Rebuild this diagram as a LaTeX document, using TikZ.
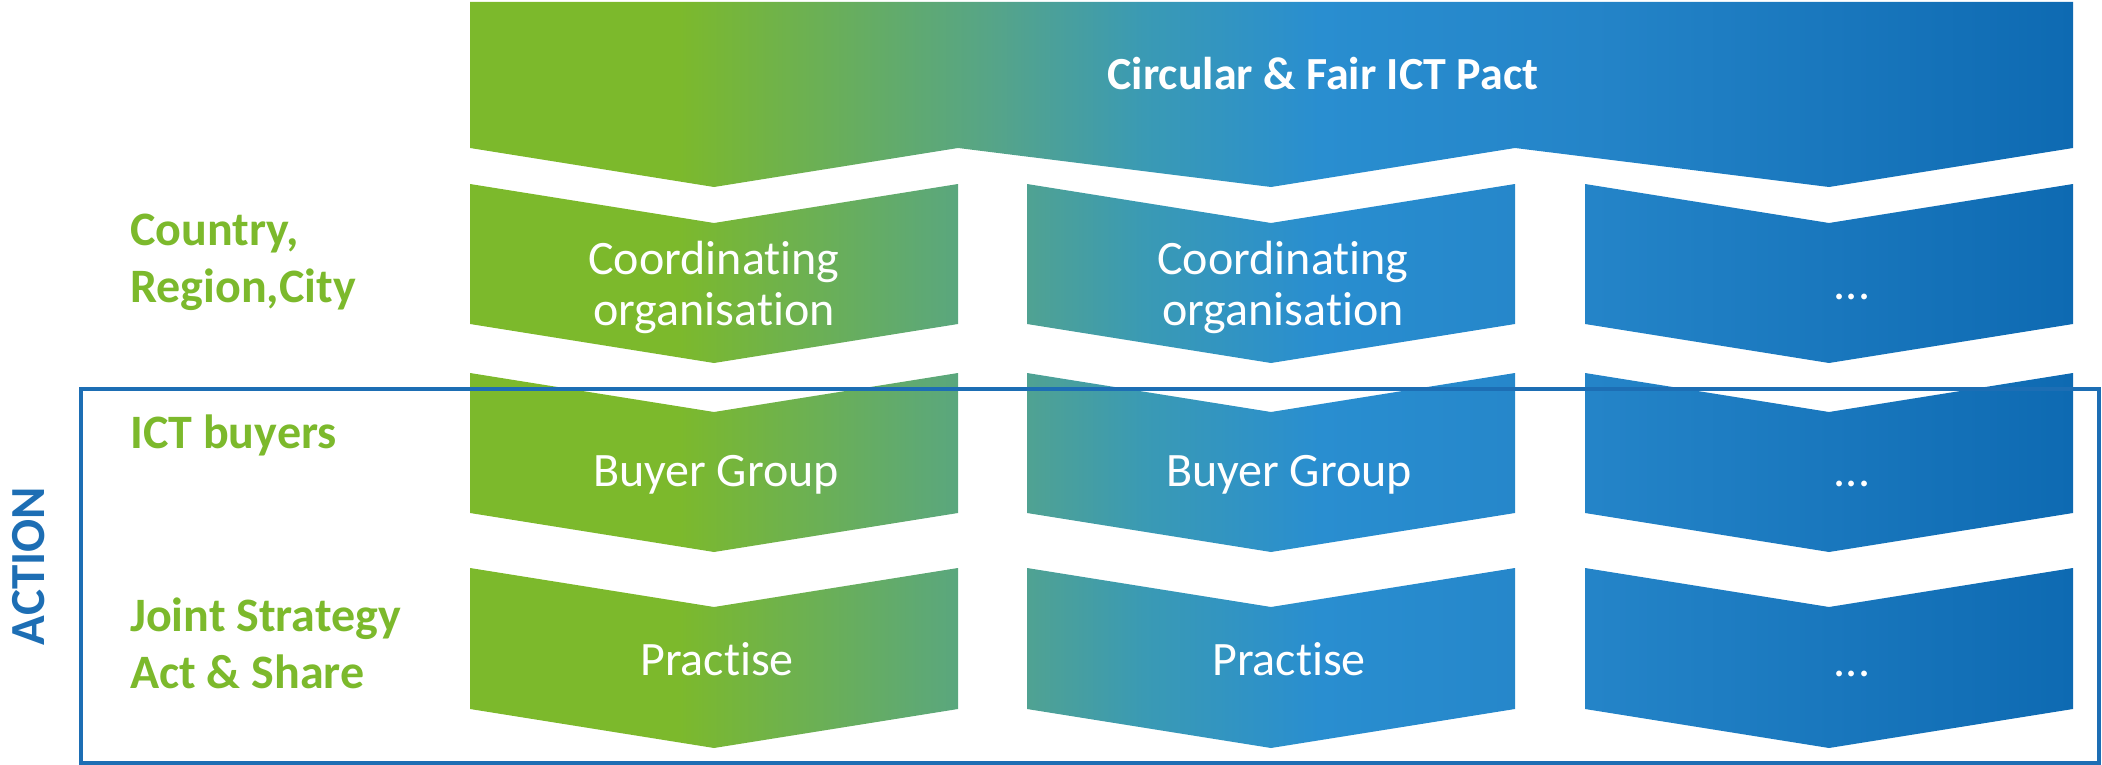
\documentclass[tikz,border=0pt]{standalone}
\usepackage{fontspec}
\setmainfont{Carlito}[Ligatures=NoCommon]
\definecolor{pactgreen}{HTML}{7CB92C}
\definecolor{pactteal}{HTML}{55A48A}
\definecolor{pactcyan}{HTML}{3A9AB4}
\definecolor{pactbright}{HTML}{298ED0}
\definecolor{pactmid}{HTML}{2484C8}
\definecolor{pactdark}{HTML}{0E6AB2}
\definecolor{pactblue}{HTML}{1D6EB4}
\pgfdeclarehorizontalshading{pactshade}{100bp}{color(0bp)=(pactgreen); color(25bp)=(pactgreen); color(31.5bp)=(pactgreen); color(41.5bp)=(pactteal); color(46bp)=(pactcyan); color(51.5bp)=(pactbright); color(60bp)=(pactmid); color(75bp)=(pactdark); color(100bp)=(pactdark)}
\tikzset{
  titletext/.style={text=white, font=\bfseries\fontsize{46}{50}\selectfont, anchor=base},
  boxtext/.style={text=white, font=\fontsize{48}{51}\selectfont, align=center, anchor=base},
  leveltext/.style={text=pactgreen, font=\bfseries\fontsize{48}{57}\selectfont, align=left, anchor=base west, inner sep=0pt},
}
\begin{document}
\begin{tikzpicture}[x=1pt,y=-1pt]
\useasboundingbox (0,0) rectangle (2102,765);
\begin{scope}
  \clip (470,2) -- (2073,2) -- (2073,148) -- (1829,187) -- (1515,148) -- (1271,187) -- (958,148) -- (714,187) -- (470,148) -- cycle
    \foreach \l in {470,1027,1585} {
      \foreach \t/\b in {184/324,373/513,568/709} {
        (\l,\t) -- ++(244,39) -- ++(244,-39) -- (\l+488,\b) -- ++(-244,39) -- (\l,\b) -- cycle
      }
    };
  \shade[shading=pactshade] (470,0) rectangle (2073,765);
\end{scope}
\draw[pactblue, line width=4pt] (81,389) rectangle (2099,763);

\node[titletext] (pact) at (1323,90) {Circular \& Fair ICT Pact};

\node[boxtext] (coord1) at (714,325) {Coordinating\\organisation};
\node[boxtext] (coord2) at (1283,325) {Coordinating\\organisation};
\node[boxtext] (coord3) at (1852,299) {...};
\node[boxtext] (buyer1) at (716,486) {Buyer Group};
\node[boxtext] (buyer2) at (1289,486) {Buyer Group};
\node[boxtext] (buyer3) at (1852,486) {...};
\node[boxtext] (practise1) at (717,675) {Practise};
\node[boxtext] (practise2) at (1289,675) {Practise};
\node[boxtext] (practise3) at (1852,676) {...};

\node[leveltext] (country) at (130,302) {Country,\\Region,City};
\node[leveltext] (buyers) at (130,448) {ICT buyers};
\node[leveltext] (joint) at (130,688) {Joint Strategy\\Act \& Share};

\node[text=pactblue, font=\bfseries\fontsize{49}{49}\selectfont, rotate=90, inner sep=0pt] (action) at (29,566) {ACTION};
\end{tikzpicture}
\end{document}
